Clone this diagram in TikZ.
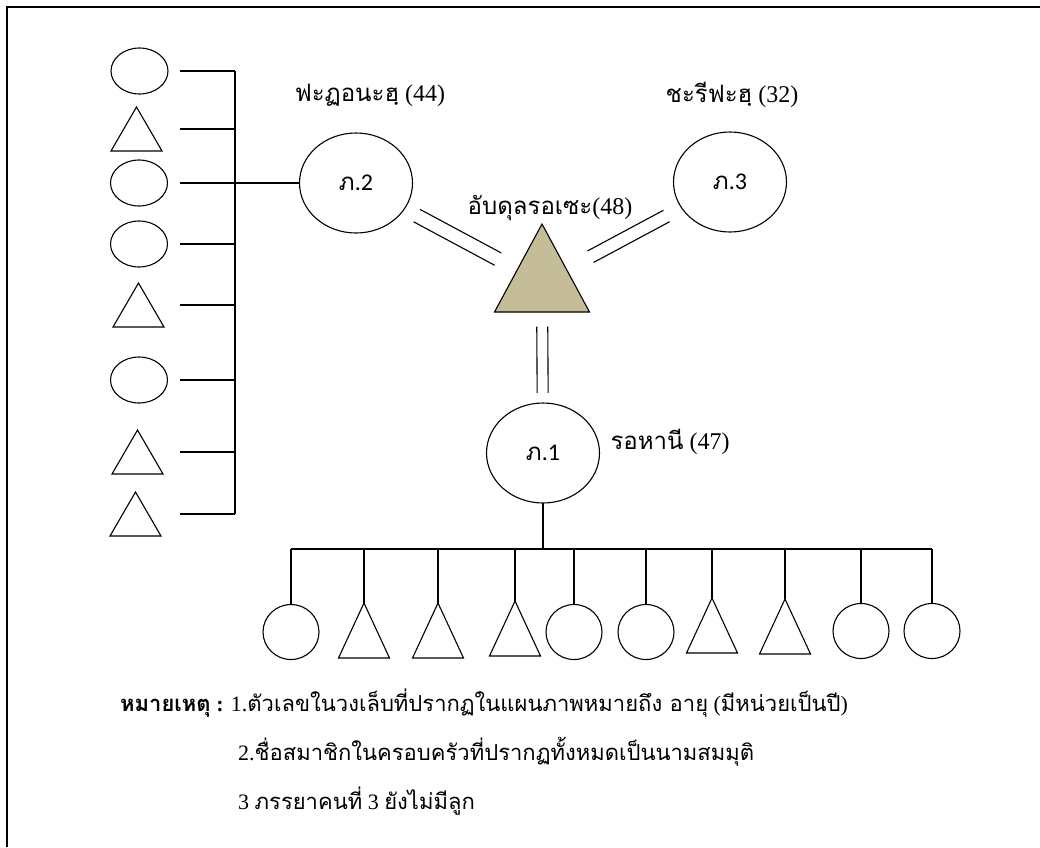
\documentclass[tikz,border=0pt]{standalone}
\usepackage{fontspec}
\setmainfont{Liberation Serif}
\newfontfamily\thaifont[Script=Thai]{Loma}
\newfontfamily\calfont{Carlito}
\usetikzlibrary{shapes.geometric,calc}

\newcommand{\thtxt}[1]{{\thaifont #1}}

\tikzset{
	kin/.style={draw,line width=1.1pt,inner sep=0pt,outer sep=0pt},
	girl/.style={kin,ellipse,minimum width=57pt,minimum height=46pt},
	boy/.style={kin,isosceles triangle,isosceles triangle stretches,shape border rotate=90,minimum width=51pt,minimum height=44pt,anchor=apex},
	daughter/.style={kin,ellipse,minimum width=56pt,minimum height=55pt},
	son/.style={kin,isosceles triangle,isosceles triangle stretches,shape border rotate=90,minimum width=51pt,minimum height=55pt,anchor=apex},
	wife/.style={kin,ellipse,minimum width=113pt,minimum height=100pt,font=\fontsize{24}{28}\selectfont},
	husband/.style={kin,isosceles triangle,isosceles triangle stretches,shape border rotate=90,minimum width=95pt,minimum height=88pt,anchor=apex,fill=tanfill},
	line/.style={line width=1.1pt},
	lbl/.style={inner sep=0pt,font=\fontsize{22}{26}\selectfont},
	tag/.style={inner sep=0pt,font=\fontsize{24}{28}\selectfont},
}
\definecolor{tanfill}{HTML}{C4BD97}

\begin{document}
\begin{tikzpicture}[x=1pt,y=-1pt]
		\useasboundingbox (0,0) rectangle (1040,847);
		%	\draw[very thin,color=gray] (0,0) grid[step=50] (1040,847);
		\draw[line width=1.5pt] (7,847) -- (7,7) -- (1040,7);

		% husband and wives
		\node[husband] (h) at (542,224) {};
		\coordinate (hc) at ($(h.apex)!0.667!(h.lower side)$);
		\node[wife] (w2) at (356,183) {\thtxt{ภ}\calfont .2};
		\node[wife] (w3) at (730,182) {\thtxt{ภ}\calfont .3};
		\node[wife] (w1) at (543,453) {\thtxt{ภ}\calfont .1};

		\coordinate (m2s) at ($(w2)!69pt!(hc)$);
		\coordinate (m2e) at ($(hc)!50pt!(w2)$);
		\draw[line] ($(m2s)!7pt!90:(m2e)$) -- ($(m2e)!7pt!-90:(m2s)$);
		\draw[line] ($(m2s)!7pt!-90:(m2e)$) -- ($(m2e)!7pt!90:(m2s)$);
		\coordinate (m3s) at ($(hc)!55pt!(w3)$);
		\coordinate (m3e) at ($(w3)!72pt!(hc)$);
		\draw[line] ($(m3s)!6.5pt!90:(m3e)$) -- ($(m3e)!6.5pt!-90:(m3s)$);
		\draw[line] ($(m3s)!6.5pt!-90:(m3e)$) -- ($(m3e)!6.5pt!90:(m3s)$);
		\coordinate (m1s) at ($(hc)!44pt!(w1)$);
		\coordinate (m1e) at ($(w1)!60pt!(hc)$);
		\draw[line] ($(m1s)!5.5pt!90:(m1e)$) -- ($(m1e)!5.5pt!-90:(m1s)$);
		\draw[line] ($(m1s)!5.5pt!-90:(m1e)$) -- ($(m1e)!5.5pt!90:(m1s)$);

		\node[tag] (n2) at (370,95) {\thtxt{ฟะฏอนะฮฺ} (44)};
		\node[tag] (n3) at (732,95) {\thtxt{ชะรีฟะฮฺ} (32)};
		\node[tag] (nh) at (550,208) {\thtxt{อับดุลรอเซะ}(48)};
		\node[tag] (n1) at (670,442) {\thtxt{รอหานี} (47)};

		% children of wife 2
		\begin{scope}
		\coordinate (stub) at (180,0);
		\coordinate (bar) at (235,0);
		\node[girl] (l1) at (139.5,71) {};
		\node[boy] (l2) at (136.5,107) {};
		\node[girl] (l3) at (139,183) {};
		\node[girl] (l4) at (139,244) {};
		\node[boy] (l5) at (138.5,283) {};
		\node[girl] (l6) at (139,380) {};
		\node[boy] (l7) at (137.5,430) {};
		\node[boy] (l8) at (135.5,492) {};
		\foreach \i/\a in {1/east,2/right side,4/east,5/right side,6/east,7/right side,8/right side}
			\draw[line] (l\i.\a -| stub) -- (l\i.\a -| bar);
		\draw[line] (l1.east -| bar) -- (l8.right side -| bar);
		\draw[line] (w2.west -| stub) -- (w2.west);
		\end{scope}

		% children of wife 1
		\begin{scope}
		\coordinate (kidbar) at (0,549);
		\node[daughter] (c1) at (291,632) {};
		\node[son] (c2) at (364,603) {};
		\node[son] (c3) at (438,603) {};
		\node[son] (c4) at (515,601) {};
		\node[daughter] (c5) at (574,632) {};
		\node[daughter] (c6) at (646,632) {};
		\node[son] (c7) at (712,598) {};
		\node[son] (c8) at (785,599) {};
		\node[daughter] (c9) at (861,631) {};
		\node[daughter] (c10) at (932,631) {};
		\draw[line] (w1.south) -- (w1.south |- kidbar);
		\draw[line] (c1.north |- kidbar) -- (c10.north |- kidbar);
		\foreach \i/\a in {1/north,2/apex,3/apex,4/apex,5/north,6/north,7/apex,8/apex,9/north,10/north}
			\draw[line] (c\i.\a |- kidbar) -- (c\i.\a);
		\end{scope}

		% notes
		\node[lbl,anchor=west] (note1) at (120,703) {\textbf{\thtxt{หมายเหตุ} :} 1.\thtxt{ตัวเลขในวงเล็บที่ปรากฏในแผนภาพหมายถึง อายุ} (\thtxt{มีหน่วยเป็นปี})};
		\node[lbl,anchor=west] (note2) at (238,752) {2.\thtxt{ชื่อสมาชิกในครอบครัวที่ปรากฏทั้งหมดเป็นนามสมมุติ}};
		\node[lbl,anchor=west] (note3) at (238,801) {3 \thtxt{ภรรยาคนที่} 3 \thtxt{ยังไม่มีลูก}};
\end{tikzpicture}
\end{document}
